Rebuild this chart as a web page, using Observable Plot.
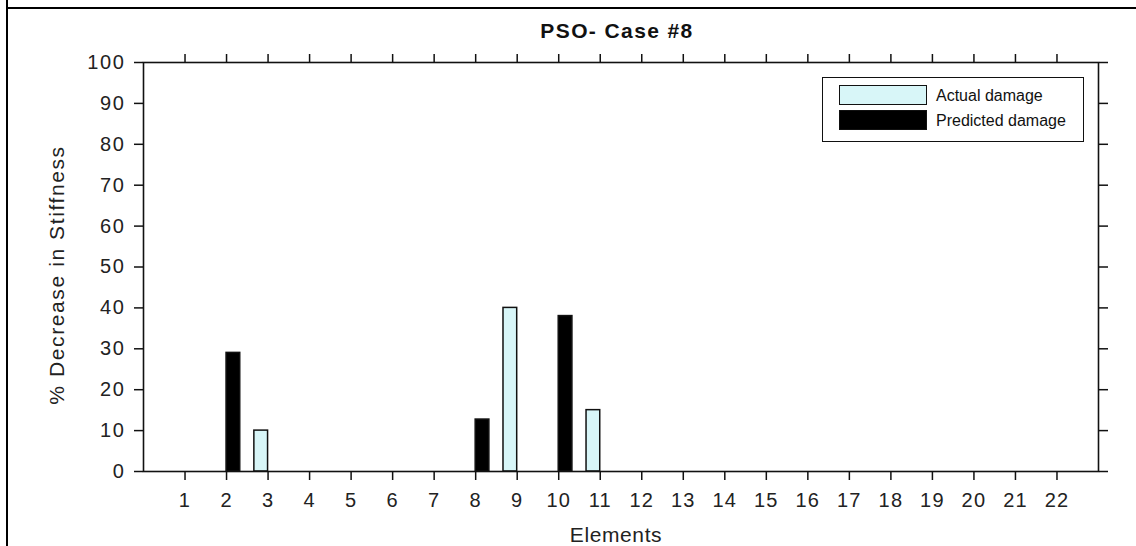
<!DOCTYPE html>
<html>
<head>
<meta charset="utf-8">
<script src="https://cdn.jsdelivr.net/npm/d3@7"></script>
<script src="https://cdn.jsdelivr.net/npm/@observablehq/plot@0.6"></script>
<style>
  html, body { margin: 0; padding: 0; background: #fff; }
  #wrap { position: relative; width: 1136px; height: 546px; overflow: hidden; font-family: "Liberation Sans", Arial, sans-serif; }
  #wrap svg { position: absolute; left: 0; top: 0; }
  .bline { position: absolute; background: #000; }
  #title { position: absolute; left: 0; width: 1234px; top: 19px; text-align: center; font-weight: bold; font-size: 21px; letter-spacing: 1.4px; color: #111; }
  #legend { position: absolute; left: 822px; top: 77px; width: 260px; height: 63px; border: 1.5px solid #111; background: #fff; }
  .sw { position: absolute; left: 16px; width: 86px; height: 18px; border: 1.5px solid #111; }
  .lt { position: absolute; left: 113px; font-size: 16px; color: #111; letter-spacing: 0px; line-height: 21px; }
  #wrap svg g[aria-label="y-axis tick label"] text { font-size: 20px; letter-spacing: 1.6px; }
  #wrap svg g[aria-label="x-axis tick label"] text { font-size: 20px; letter-spacing: 1.2px; }
  #wrap svg g[aria-description="ylabel"] text { letter-spacing: 1.6px; }
  #wrap svg g[aria-description="xlabel"] text { letter-spacing: 0.6px; }
</style>
</head>
<body>
<div id="wrap">
  <div class="bline" style="left:6px;top:7px;width:1130px;height:2px"></div>
  <div class="bline" style="left:6px;top:0;width:2px;height:546px"></div>
  <div id="title">PSO- Case #8</div>
</div>
<script>
// ---- data ----
const elements = [1,2,3,4,5,6,7,8,9,10,11,12,13,14,15,16,17,18,19,20,21,22];
const actualDamage = [0,0,10,0,0,0,0,0,40,0,15,0,0,0,0,0,0,0,0,0,0,0];
const predictedDamage = [0,29,0,0,0,0,0,12.7,0,38,0,0,0,0,0,0,0,0,0,0,0,0];
const yTicks = [0,10,20,30,40,50,60,70,80,90,100];
const seriesNames = ["Actual damage", "Predicted damage"];

const barW = 0.33;
const rows = [];
elements.forEach((e, i) => {
  if (actualDamage[i] > 0) rows.push({el: e, v: actualDamage[i], s: seriesNames[0]});
  if (predictedDamage[i] > 0) rows.push({el: e, v: predictedDamage[i], s: seriesNames[1]});
});

const chart = Plot.plot({
  width: 1136,
  height: 546,
  marginLeft: 143,
  marginRight: 38,
  marginTop: 62,
  marginBottom: 75,
  style: {fontFamily: "'Liberation Sans', Arial, sans-serif", fontSize: "20px", color: "#111", background: "transparent", overflow: "visible"},
  x: {domain: [0, 23]},
  y: {domain: [0, 100]},
  marks: [
    Plot.rectY(rows, {
      x1: d => d.s === seriesNames[0] ? d.el - barW : d.el,
      x2: d => d.s === seriesNames[0] ? d.el : d.el + barW,
      y1: 0,
      y2: "v",
      fill: d => d.s === seriesNames[0] ? "#d8f6f8" : "#000",
      stroke: "#111",
      strokeWidth: 1.5
    }),
    Plot.frame({stroke: "#111", strokeWidth: 1.6}),
    Plot.axisX({anchor: "bottom", ticks: elements, tickSize: 9, tickPadding: 12, label: null, strokeWidth: 1.5, fontSize: 20, fill: "#222", tickFormat: d => String(d)}),
    Plot.axisX({anchor: "top", ticks: elements, tickSize: 9, label: null, strokeWidth: 1.5, tickFormat: () => ""}),
    Plot.axisY({anchor: "left", ticks: yTicks, tickSize: 9, tickPadding: 9, label: null, strokeWidth: 1.5, fontSize: 20, fill: "#222"}),
    Plot.axisY({anchor: "right", ticks: yTicks, tickSize: 9, label: null, strokeWidth: 1.5, tickFormat: () => ""}),
    Plot.text(["% Decrease in Stiffness"], {ariaDescription: "ylabel", frameAnchor: "left", textAnchor: "middle", lineAnchor: "middle", rotate: -90, dx: -86, dy: 8, fontSize: 21, fill: "#222"}),
    Plot.text(["Elements"], {ariaDescription: "xlabel", frameAnchor: "bottom", lineAnchor: "middle", dy: 64, dx: -5, fontSize: 21, fill: "#222"})
  ]
});
const wrap = document.getElementById("wrap");
wrap.insertBefore(chart, wrap.firstChild);

// legend
const lg = document.createElement("div");
lg.id = "legend";
const fills = ["#d8f6f8", "#000"];
seriesNames.forEach((n, i) => {
  const sw = document.createElement("div");
  sw.className = "sw";
  sw.style.top = (7 + i * 25) + "px";
  sw.style.background = fills[i];
  lg.appendChild(sw);
  const t = document.createElement("div");
  t.className = "lt";
  t.style.top = (7 + i * 25) + "px";
  t.textContent = n;
  lg.appendChild(t);
});
wrap.appendChild(lg);
</script>
</body>
</html>
